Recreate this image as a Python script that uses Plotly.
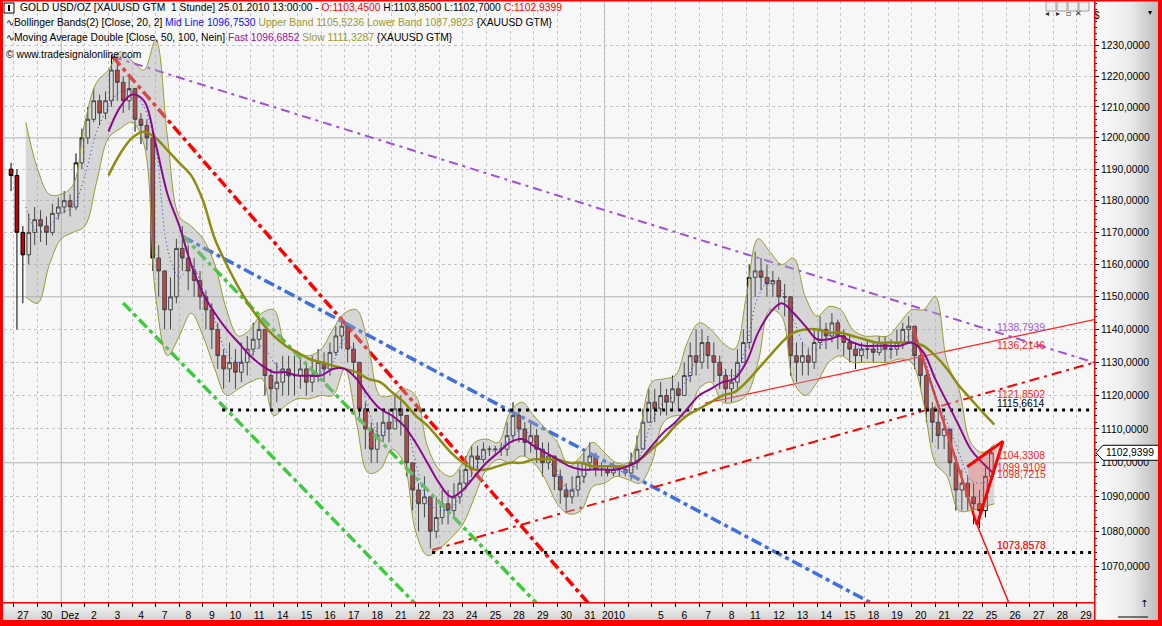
import base64
import math
import plotly.graph_objects as go

# ======================= DATA =======================
# day index: 0 = 27 Nov 2009, one unit per trading day (same spacing as the chart's date axis)
CANDLE_T0 = -0.25      # first 6h candle opens here
CANDLE_STEP = 0.25
OPEN_FIRST = 1190.0

close = [1188,
         1170, 1163, 1170, 1174,   1172, 1170, 1176, 1178,   1180, 1178, 1192, 1200,
         1206, 1212, 1208, 1212,   1222, 1218, 1212, 1216,   1206, 1204, 1200, 1162,
         1158, 1146, 1150, 1165,   1162, 1158, 1155, 1150,   1146, 1140, 1132, 1128,
         1130, 1127, 1130, 1134,   1137, 1140, 1126, 1122,   1124, 1128, 1126, 1126,
         1128, 1124, 1126, 1130,   1128, 1133, 1138, 1141,   1134, 1130, 1116, 1110,
         1104, 1108, 1112, 1110,   1116, 1114, 1100, 1092,   1088, 1090, 1080, 1084,
         1088, 1086, 1090, 1094,   1098, 1102, 1101, 1104,   1104, 1104, 1104, 1108,
         1114, 1110, 1106, 1108,   1104, 1100, 1102, 1096,   1092, 1090, 1092, 1096,
         1100, 1102, 1098, 1098,   1097, 1098, 1098, 1097,   1100, 1104, 1112, 1118,
         1116, 1120, 1118, 1122,   1120, 1126, 1132, 1130,   1136, 1132, 1130, 1126,
         1122, 1124, 1130, 1136,   1156, 1158, 1156, 1154,   1155, 1150, 1150, 1132,
         1130, 1132, 1130, 1136,   1140, 1138, 1142, 1138,   1136, 1134, 1132, 1134,
         1134, 1133, 1136, 1134,   1134, 1136, 1140, 1141,   1132, 1126, 1116, 1112,
         1108, 1110, 1100, 1092,   1094, 1090, 1088, 1086,   1096, 1102.9399]
high = [1192,
        1190, 1172, 1176, 1178,   1177, 1175, 1179, 1181,   1183, 1182, 1195, 1203,
        1210, 1216, 1214, 1215,   1227, 1226, 1220, 1220,   1216, 1208, 1206, 1202,
        1166, 1158, 1156, 1168,   1172, 1166, 1162, 1158,   1152, 1148, 1142, 1134,
        1136, 1134, 1136, 1138,   1142, 1144, 1140, 1128,   1130, 1132, 1132, 1132,
        1132, 1130, 1132, 1134,   1133, 1136, 1141, 1144,   1142, 1136, 1130, 1118,
        1112, 1112, 1116, 1116,   1120, 1120, 1114, 1100,   1094, 1096, 1090, 1090,
        1092, 1092, 1094, 1098,   1102, 1105, 1105, 1106,   1105, 1105, 1106, 1112,
        1118, 1116, 1112, 1112,   1110, 1106, 1106, 1102,   1098, 1094, 1096, 1100,
        1103, 1106, 1103, 1100,   1099, 1100, 1099, 1099,   1103, 1108, 1116, 1122,
        1122, 1124, 1122, 1126,   1124, 1130, 1136, 1140,   1140, 1138, 1136, 1132,
        1128, 1128, 1134, 1140,   1160, 1164, 1162, 1160,   1158, 1156, 1154, 1150,
        1136, 1136, 1134, 1140,   1144, 1142, 1145, 1143,   1140, 1138, 1136, 1136,
        1137, 1136, 1138, 1138,   1137, 1140, 1142, 1144,   1141, 1134, 1128, 1118,
        1116, 1114, 1110, 1102,   1098, 1096, 1094, 1092,   1099, 1104.5]
low = [1183,
       1140, 1148, 1160, 1166,   1167, 1166, 1169, 1174,   1176, 1175, 1177, 1190,
       1198, 1205, 1204, 1206,   1210, 1212, 1208, 1209,   1202, 1198, 1196, 1158,
       1150, 1140, 1140, 1148,   1158, 1152, 1150, 1146,   1140, 1134, 1128, 1122,
       1124, 1122, 1124, 1126,   1132, 1134, 1120, 1116,   1118, 1120, 1120, 1120,
       1122, 1120, 1121, 1124,   1124, 1126, 1132, 1134,   1130, 1126, 1112, 1104,
       1100, 1100, 1106, 1106,   1110, 1108, 1096, 1086,   1080, 1084, 1075, 1078,
       1082, 1082, 1084, 1088,   1092, 1096, 1098, 1100,   1102, 1102, 1102, 1102,
       1106, 1106, 1102, 1103,   1100, 1096, 1098, 1092,   1088, 1086, 1088, 1090,
       1094, 1098, 1096, 1096,   1096, 1096, 1096, 1096,   1095, 1098, 1104, 1112,
       1112, 1114, 1114, 1116,   1116, 1120, 1124, 1126,   1128, 1128, 1124, 1122,
       1118, 1118, 1122, 1130,   1134, 1150, 1152, 1150,   1150, 1146, 1144, 1126,
       1124, 1126, 1126, 1128,   1134, 1134, 1136, 1134,   1132, 1130, 1128, 1130,
       1131, 1130, 1132, 1130,   1131, 1132, 1134, 1136,   1128, 1122, 1112, 1106,
       1104, 1104, 1096, 1086,   1086, 1086, 1082, 1081,   1084, 1095]

# Bollinger Bands (20, 2) read every half day, starting at day 0.5
BAND_T0 = 0.5
BAND_STEP = 0.5
bb_upper = [1205, 1190, 1182, 1182, 1185, 1205, 1218, 1222, 1228, 1225,
            1222, 1232, 1200, 1175, 1172, 1168, 1160, 1146, 1138, 1140,
            1145, 1146, 1135, 1133, 1132, 1134, 1140, 1145, 1146, 1135,
            1120, 1120, 1122, 1120, 1105, 1098, 1096, 1100, 1106, 1107,
            1106, 1115, 1118, 1114, 1110, 1106, 1099, 1102, 1106, 1103,
            1100, 1100, 1110, 1124, 1125, 1126, 1136, 1142, 1140, 1136,
            1134, 1150, 1168, 1164, 1160, 1162, 1150, 1144, 1147, 1146,
            1140, 1138, 1138, 1138, 1142, 1146, 1146, 1150, 1130, 1122,
            1106, 1103, 1105.5236]
bb_lower = [1150, 1148, 1160, 1168, 1170, 1172, 1186, 1200, 1203, 1205,
            1198, 1150, 1132, 1138, 1145, 1138, 1128, 1120, 1122, 1124,
            1125, 1114, 1117, 1119, 1119, 1120, 1120, 1128, 1112, 1097,
            1098, 1104, 1100, 1080, 1073, 1075, 1078, 1082, 1090, 1098,
            1101, 1100, 1102, 1100, 1095, 1088, 1085, 1086, 1093, 1094,
            1096, 1095, 1094, 1100, 1112, 1114, 1114, 1122, 1124, 1118,
            1118, 1120, 1130, 1146, 1144, 1124, 1120, 1124, 1130, 1132,
            1130, 1130, 1130, 1130, 1131, 1130, 1118, 1100, 1096, 1086,
            1086, 1087, 1087.9823]
bb_mid = [1178, 1170, 1172, 1176, 1178, 1188, 1202, 1210, 1215, 1215,
          1210, 1197, 1165, 1156, 1160, 1152, 1143, 1133, 1130, 1132,
          1135, 1130, 1126, 1126, 1126, 1127, 1130, 1137, 1130, 1116,
          1108, 1112, 1112, 1100, 1089, 1086, 1087, 1091, 1098, 1103,
          1104, 1107, 1110, 1107, 1102, 1097, 1092, 1094, 1099, 1098,
          1098, 1097, 1102, 1112, 1118, 1120, 1125, 1132, 1132, 1127,
          1126, 1135, 1150, 1155, 1152, 1143, 1135, 1134, 1138, 1139,
          1135, 1134, 1134, 1134, 1136, 1138, 1132, 1120, 1112, 1103,
          1095, 1094, 1096.7530]

# Moving Average Double (50, 100), read every half day from day 4
MA_T0 = 4.0
MA_STEP = 0.5
ma_fast = [1202, 1210, 1214, 1212, 1198, 1182, 1172, 1160, 1151, 1145,
           1140, 1136, 1132, 1129, 1127, 1127, 1126, 1126, 1126, 1128,
           1128, 1125, 1120, 1116, 1114, 1111, 1106, 1100, 1094, 1090,
           1092, 1096, 1100, 1103, 1106, 1107, 1105, 1103, 1101, 1099,
           1098, 1098, 1098, 1098, 1099, 1101, 1105, 1109, 1112, 1116,
           1120, 1122, 1124, 1125, 1130, 1139, 1145, 1148, 1145, 1141,
           1137, 1137, 1138, 1136, 1135, 1135, 1135, 1135, 1136, 1133,
           1125, 1118, 1111, 1104, 1100, 1096.6852]
ma_slow = [1188, 1195, 1200, 1202, 1200, 1196, 1192, 1188, 1180, 1168,
           1160, 1153, 1147, 1142, 1138, 1135, 1133, 1131, 1130, 1129,
           1128, 1127, 1125, 1124, 1121, 1118, 1114, 1111, 1107, 1103,
           1100, 1098, 1098, 1099, 1100, 1100, 1101, 1101, 1101, 1100,
           1100, 1099, 1099, 1099, 1099, 1101, 1104, 1107, 1111, 1114,
           1116, 1118, 1120, 1121, 1124, 1128, 1132, 1136, 1139, 1140,
           1140, 1139, 1139, 1138, 1137, 1136, 1136, 1136, 1136, 1135,
           1132, 1128, 1123, 1119, 1115, 1111.3287]

day_labels = ["27", "30", "Dez", "2", "3", "4", "7", "8", "9", "10", "11", "14", "15",
              "16", "17", "18", "21", "22", "23", "24", "25", "28", "29", "30", "31",
              "2010", "", "5", "6", "7", "8", "11", "12", "13", "14", "15", "18", "19",
              "20", "21", "22", "25", "26", "27", "28", "29"]
month_starts = [2, 25]
y_ticks = [1070, 1080, 1090, 1100, 1110, 1120, 1130, 1140, 1150, 1160, 1170, 1180, 1190,
           1200, 1210, 1220, 1230]
y_solid = [1100, 1150, 1200]

# drawn studies (day index, price)
line_purple = ([4.19, 46.5], [1226.3, 1128.2])
line_red_down = ([4.19, 24.81], [1226.3, 1055.6])
line_blue = ([7.16, 37.09], [1168.6, 1056.6])
line_green_hi = ([7.11, 22.48], [1169.2, 1056.9])
line_green_lo = ([4.62, 17.32], [1148.1, 1056.9])
line_red_up = ([17.70, 46.5], [1074.6, 1131.5])
line_red_thin = ([29.26, 46.5], [1117.7, 1144.2])
level_hi = ([8.81, 46.5], [1115.6614, 1115.6614])
level_lo = ([17.70, 46.5], [1073.8573, 1073.8573])
tri_peak = (38.06, 1140.4)
tri_a = (40.35, 1098.8)
tri_b = (41.87, 1106.4)
tri_c = (40.77, 1081.8)
tri_d = (42.25, 1057.3)

LABEL_T = 41.53
value_labels = [("1138,7939", 1138.7939, "#9A5FD0", 6),
                ("1136,2146", 1136.2146, "#FF2020", -4),
                ("1121,8502", 1121.8502, "#FF2020", -5),
                ("1115,6614", 1115.6614, "#000000", 6),
                ("1104,3308", 1104.3308, "#FF2020", -7),
                ("1099,9109", 1099.9109, "#FF2020", -4),
                ("1098,7215", 1098.7215, "#FF2020", -7),
                ("1073,8578", 1073.8578, "#FF2020", 7),
                ("1073,8573", 1073.8573, "#FF2020", 7)]
LAST_PRICE = 1102.9399

# ======================= LAYOUT GEOMETRY =======================
W, H = 1162, 626
ML, MR, MT, MB = 4, 68, 1, 24
X_RANGE = [-0.423, 45.72]
Y_RANGE = [3.025196, 3.095105]   # log10 of price
FONT = "Liberation Sans, Arial, sans-serif"
FS = 10.3


def px(X, Y):
    """figure pixel -> paper coordinates (for decorations only)"""
    return (X - ML) / (W - ML - MR), (H - MB - Y) / (H - MT - MB)


def paper_y_of_price(p):
    return (math.log10(p) - Y_RANGE[0]) / (Y_RANGE[1] - Y_RANGE[0])


def grad_uri(c0, c1, horizontal=True, cm=None):
    x2, y2 = ("1", "0") if horizontal else ("0", "1")
    mid = f'<stop offset="0.55" stop-color="{cm}"/>' if cm else ""
    svg = ('<svg xmlns="http://www.w3.org/2000/svg" width="20" height="20" viewBox="0 0 20 20" '
           'preserveAspectRatio="none"><defs><linearGradient id="g" x1="0" y1="0" '
           f'x2="{x2}" y2="{y2}"><stop offset="0" stop-color="{c0}"/>{mid}'
           f'<stop offset="1" stop-color="{c1}"/></linearGradient></defs>'
           '<rect width="20" height="20" fill="url(#g)"/></svg>')
    return "data:image/svg+xml;base64," + base64.b64encode(svg.encode()).decode()


# ======================= FIGURE =======================
fig = go.Figure()

candle_t = [CANDLE_T0 + CANDLE_STEP * (j + 0.5) for j in range(len(close))]
opens = [OPEN_FIRST] + close[:-1]
band_t = [BAND_T0 + BAND_STEP * i for i in range(len(bb_upper))]
ma_t = [MA_T0 + MA_STEP * i for i in range(len(ma_fast))]


def seg(xy, color, width, dash):
    fig.add_trace(go.Scatter(x=xy[0], y=xy[1], mode="lines",
                             line=dict(color=color, width=width, dash=dash),
                             hoverinfo="skip"))


# trend lines (under the band shading)
seg(line_purple, "#A050D8", 2, "9px,5px,3px,5px")
seg(line_red_down, "#FF0000", 3.5, "11px,4px,4px,4px")
seg(line_blue, "#3F6FE0", 3.5, "11px,4px,4px,4px")
seg(line_green_hi, "#3CCB3C", 3.5, "11px,4px,4px,4px")
seg(line_green_lo, "#3CCB3C", 3.5, "11px,4px,4px,4px")
seg(line_red_up, "#FF0000", 2, "10px,5px,3px,5px")
seg(line_red_thin, "#FF2020", 1.2, "solid")
seg(([tri_peak[0], tri_c[0]], [tri_peak[1], tri_c[1]]), "#FF0000", 2.5, "solid")

# Bollinger band
fig.add_trace(go.Scatter(x=band_t, y=bb_lower, mode="lines", line=dict(color="#9A9A30", width=1, shape="spline"),
                         hoverinfo="skip"))
fig.add_trace(go.Scatter(x=band_t, y=bb_upper, mode="lines", line=dict(color="#9A9A30", width=1, shape="spline"),
                         fill="tonexty", fillcolor="rgba(170,170,170,0.42)", hoverinfo="skip"))
fig.add_trace(go.Scatter(x=band_t, y=bb_mid, mode="lines",
                         line=dict(color="#2030E0", width=1, dash="1px,3px", shape="spline"), hoverinfo="skip"))

# horizontal levels
seg(level_hi, "#000000", 3, "3px,5px")
seg(level_lo, "#000000", 3, "3px,5px")

# candles
fig.add_trace(go.Candlestick(x=candle_t, open=opens, high=high, low=low, close=close,
                             increasing=dict(line=dict(color="#000000", width=1), fillcolor="#FFFFFF"),
                             decreasing=dict(line=dict(color="#000000", width=1), fillcolor="#C80000"),
                             whiskerwidth=0, hoverinfo="skip"))

# moving averages
fig.add_trace(go.Scatter(x=ma_t, y=ma_slow, mode="lines", line=dict(color="#8C8C10", width=2.5, shape="spline"),
                         hoverinfo="skip"))
fig.add_trace(go.Scatter(x=ma_t, y=ma_fast, mode="lines", line=dict(color="#8A0A8A", width=2, shape="spline"),
                         hoverinfo="skip"))

# triangle pattern at the end
fig.add_trace(go.Scatter(x=[tri_a[0], tri_b[0], tri_c[0], tri_a[0]], y=[tri_a[1], tri_b[1], tri_c[1], tri_a[1]],
                         mode="lines", line=dict(width=0), fill="toself", fillcolor="rgba(255,60,60,0.25)",
                         hoverinfo="skip"))
seg(([tri_a[0], tri_b[0]], [tri_a[1], tri_b[1]]), "#FF0000", 3, "solid")
seg(([tri_c[0], tri_b[0]], [tri_c[1], tri_b[1]]), "#FF0000", 3, "solid")
seg(([tri_c[0], tri_d[0]], [tri_c[1], tri_d[1]]), "#FF1010", 1.5, "solid")

annotations = []
for txt, val, col, sh in value_labels:
    annotations.append(dict(x=LABEL_T, y=math.log10(val), xref="x", yref="y", text=txt, showarrow=False,
                            xanchor="left", yanchor="middle", yshift=sh,
                            font=dict(family=FONT, size=FS, color=col)))

# header lines
hdr = [
    (18, 8, 'GOLD USD/OZ [XAUUSD GTM&nbsp;&nbsp;1 Stunde] 25.01.2010 13:00:00 - '
            '<span style="color:#FF0000">O:1103,4500</span> H:1103,8500 L:1102,7000 '
            '<span style="color:#FF0000">C:1102,9399</span>'),
    (4, 23, '∿Bollinger Bands(2) [Close, 20, 2] <span style="color:#1010FF">Mid Line 1096,7530</span> '
            '<span style="color:#9A9A30">Upper Band 1105,5236 Lower Band 1087,9823</span> {XAUUSD GTM}'),
    (4, 38, '∿Moving Average Double [Close, 50, 100, Nein] <span style="color:#A010A0">Fast 1096,6852</span> '
            '<span style="color:#9A9A30">Slow 1111,3287</span> {XAUUSD GTM}'),
    (4, 54, '© www.tradesignalonline.com'),
]
for X, Y, txt in hdr:
    ax_, ay_ = px(X, Y)
    annotations.append(dict(x=ax_, y=ay_, xref="paper", yref="paper", text=txt, showarrow=False,
                            xanchor="left", yanchor="middle", font=dict(family=FONT, size=FS, color="#000000")))

# price marker on the axis
pm_y = paper_y_of_price(LAST_PRICE)
x_a, _ = px(1096, 0)
x_b, _ = px(1103, 0)
x_c, _ = px(1160, 0)
hh = 7.5 / (H - MT - MB)
shapes = [
    dict(type="path", xref="paper", yref="paper",
         path=f"M {x_a} {pm_y} L {x_b} {pm_y + hh} L {x_c} {pm_y + hh} L {x_c} {pm_y - hh} L {x_b} {pm_y - hh} Z",
         fillcolor="#FFFFFF", line=dict(color="#000000", width=1), layer="above"),
]
tx, _ = px(1104, 0)
annotations.append(dict(x=tx, y=pm_y, xref="paper", yref="paper", text="1102,9399", showarrow=False,
                        xanchor="left", yanchor="middle", font=dict(family=FONT, size=FS, color="#000000")))

# solid grid lines
for m in month_starts:
    shapes.append(dict(type="line", xref="x", yref="paper", x0=m, x1=m, y0=0, y1=1,
                       line=dict(color="#ADB5AD", width=1), layer="below"))
for v in y_solid:
    yy = paper_y_of_price(v)
    shapes.append(dict(type="line", xref="paper", yref="paper", x0=0, x1=1, y0=yy, y1=yy,
                       line=dict(color="#ADB5AD", width=1), layer="below"))


# frame: red borders
def rect(X0, Y0, X1, Y1, color, line=None, layer="above"):
    a0, b0 = px(X0, Y0)
    a1, b1 = px(X1, Y1)
    shapes.append(dict(type="rect", xref="paper", yref="paper", x0=a0, y0=b1, x1=a1, y1=b0,
                       fillcolor=color, line=dict(width=0) if line is None else line, layer=layer))


rect(0, 0, 3, 626, "#FF0000")
rect(0, 0, 1162, 1.5, "#FF0000")
rect(1158, 0, 1162, 626, "#FF0000")
rect(0, 620, 1162, 626, "#FF0000")
rect(1094, 0, 1095.5, 620, "#FF0000")
rect(0, 602, 1095, 603.5, "#FF0000")
# header icon + top-right buttons
rect(4, 3, 14, 13, "#FFFFFF", line=dict(color="#000000", width=1))
rect(8, 5, 10, 11, "#000000")
for bx in (1046, 1057, 1068, 1079):
    rect(bx, 2, bx + 10, 11, "#F0F0F0", line=dict(color="#A0A0A0", width=1))
bx_labels = ["◂", "▸", "▫", "✕"]
for bx, s in zip((1051, 1062, 1073, 1084), bx_labels):
    a, b = px(bx, 7)
    annotations.append(dict(x=a, y=b, xref="paper", yref="paper", text=s, showarrow=False,
                            font=dict(size=8, color="#303030", family="DejaVu Sans")))
a, b = px(1102, 8)
annotations.append(dict(x=a, y=b, xref="paper", yref="paper", text="$", showarrow=False,
                        font=dict(size=10, color="#000000", family=FONT)))
a, b = px(1154, 6)
annotations.append(dict(x=a, y=b, xref="paper", yref="paper", text="▾", showarrow=False,
                        font=dict(size=8, color="#000000", family="DejaVu Sans")))
a, b = px(1150, 611)
annotations.append(dict(x=a, y=b, xref="paper", yref="paper", text="↑", showarrow=False,
                        font=dict(size=10, color="#000000", family="DejaVu Sans")))
a0, b0 = px(1118, 617)
a1, _ = px(1148, 617)
shapes.append(dict(type="line", xref="paper", yref="paper", x0=a0, x1=a1, y0=b0, y1=b0,
                   line=dict(color="#000000", width=1)))

# backgrounds for axis column and date strip
ix0, iy0 = px(1095, 0)
ix1, iy1 = px(1158, 620)
bx0, by0 = px(0, 603)
bx1, by1 = px(1095, 620)
images = [
    dict(source=grad_uri("#FBFBFB", "#BDBDBD", True, "#EBEBEB"), xref="paper", yref="paper",
         x=ix0, y=iy0, sizex=ix1 - ix0, sizey=iy0 - iy1, xanchor="left", yanchor="top",
         sizing="stretch", layer="below"),
    dict(source=grad_uri("#F6F6F6", "#D2D2D2", False), xref="paper", yref="paper",
         x=bx0, y=by0, sizex=bx1 - bx0, sizey=by0 - by1, xanchor="left", yanchor="top",
         sizing="stretch", layer="below"),
]

fig.update_layout(
    width=W, height=H,
    margin=dict(l=ML, r=MR, t=MT, b=MB, pad=0),
    paper_bgcolor="#FFFFFF", plot_bgcolor="#F7F7F7",
    showlegend=False, hovermode=False,
    boxgap=0.12,
    annotations=annotations, shapes=shapes, images=images,
    xaxis=dict(range=X_RANGE, tickmode="array", tickvals=list(range(len(day_labels))), ticktext=day_labels,
               ticks="outside", ticklen=4, tickcolor="#000000", ticklabelshift=9,
               showgrid=True, gridcolor="#C4C4C4", griddash="dot", gridwidth=1,
               zeroline=False, showline=False, rangeslider=dict(visible=False), fixedrange=True,
               tickfont=dict(family=FONT, size=FS, color="#000000")),
    yaxis=dict(type="log", range=Y_RANGE, side="right", tickmode="array", tickvals=y_ticks,
               ticktext=[f"{v},0000" for v in y_ticks], ticks="outside", ticklen=4, tickcolor="#000000",
               minor=dict(tickmode="array", tickvals=[v for v in range(1060, 1246, 2) if v % 10 != 0],
                          ticks="outside", ticklen=2, tickcolor="#000000", showgrid=False),
               showgrid=True, gridcolor="#C4C4C4", griddash="dot", gridwidth=1,
               zeroline=False, showline=False, fixedrange=True,
               tickfont=dict(family=FONT, size=FS, color="#000000")),
)

fig.write_html("out.html", config={"displayModeBar": False, "staticPlot": True},
               post_script="document.body.style.margin='0';document.body.style.overflow='hidden';")
